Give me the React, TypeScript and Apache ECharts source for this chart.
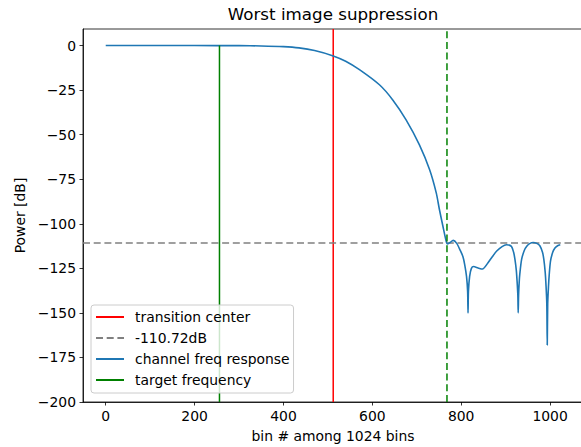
import React, { useEffect, useRef } from "react";
import * as echarts from "echarts";

// ---- data ----
const responseBins = [
  0, 100, 200, 300, 350, 400, 435, 470, 512, 540, 571, 616, 646, 676, 706, 729, 744, 751, 759,
  767, 770, 775, 782, 790, 798, 804, 808, 812, 814.5, 815.4, 816.3, 819, 823, 828, 838, 848, 860,
  870, 880, 892, 902, 913, 918, 921, 924, 926, 927.5, 928.3, 929.2, 930.5, 932, 936, 942, 948,
  955, 962, 970, 977, 983, 986, 989, 991, 992.7, 993.7, 994.7, 996.5, 998, 1001, 1006, 1011,
  1017, 1023,
];
const responseDb = [
  0, 0, 0, -0.05, -0.2, -0.6, -1.3, -2.8, -5.8, -8.8, -13.5, -22, -30.5, -41.7, -55.7, -69.7,
  -82.8, -92, -101.5, -110.5, -111.3, -110.5, -109.3, -111, -115, -118.5, -123, -129.5, -138,
  -150, -138, -129.5, -125, -124, -124.8, -125.4, -122, -118.5, -115.3, -112.8, -111.8, -112.7,
  -116, -120, -126, -133, -140, -150, -140, -133, -128, -120, -115, -112.5, -111, -110.5, -111,
  -112.3, -116, -120, -127, -135, -145, -168, -145, -135, -129, -121, -116, -113.6, -112.3,
  -111.8,
];
const transitionCenter = 512;
const targetFrequency = 256;
const worstBin = 768;
const worstDb = -110.72;
const xTicks = [0, 200, 400, 600, 800, 1000];
const yTicks = [-200, -175, -150, -125, -100, -75, -50, -25, 0];
const xRange = [-51.15, 1074.15];
const yRange = [-200, 9.3];

const FONT = "DejaVu Sans";

export default function App() {
  const ref = useRef<HTMLDivElement>(null);
  useEffect(() => {
    if (!ref.current) return;
    const chart = echarts.init(ref.current, null, { renderer: "svg" });
    const curve = responseBins.map((b, i) => [b, responseDb[i]]);
    const minus = (v: number) => String(v).replace("-", "\u2212");
    chart.setOption({
      animation: false,
      title: {
        text: "Worst image suppression",
        left: 333,
        top: 5,
        textAlign: "center",
        padding: 0,
        textStyle: { fontFamily: FONT, fontSize: 16.7, fontWeight: "normal", color: "#000" },
      },
      grid: {
        left: 83,
        top: 29,
        right: -2,
        bottom: 45,
        show: true,
        borderColor: "#000",
        borderWidth: 0.8,
        outerBoundsMode: "none",
        containLabel: false,
      },
      legend: {
        orient: "vertical",
        left: 91,
        top: 305,
        data: ["transition center", `${worstDb}dB`, "channel freq response", "target frequency"],
        itemWidth: 28,
        itemHeight: 14,
        itemGap: 7,
        padding: [5, 4, 6, 4],
        backgroundColor: "rgba(255,255,255,0.8)",
        borderColor: "#cccccc",
        borderWidth: 1,
        borderRadius: 3,
        selectedMode: false,
        itemStyle: { opacity: 0 },
        textStyle: { fontFamily: FONT, fontSize: 13.9, color: "#000", padding: [0, 0, 0, 6] },
      },
      xAxis: {
        type: "value",
        min: xRange[0],
        max: xRange[1],
        name: "bin # among 1024 bins",
        nameLocation: "middle",
        nameGap: 27,
        nameTextStyle: { fontFamily: FONT, fontSize: 13.9, color: "#000" },
        axisLine: { show: true, onZero: false, lineStyle: { color: "#000", width: 0.8 } },
        axisTick: { show: true, length: 3.5, customValues: xTicks, lineStyle: { color: "#000", width: 0.8 } },
        axisLabel: {
          customValues: xTicks,
          margin: 7,
          fontFamily: FONT,
          fontSize: 13.9,
          color: "#000",
          formatter: (v: number) => String(v),
        },
        splitLine: { show: false },
      },
      yAxis: {
        type: "value",
        min: yRange[0],
        max: yRange[1],
        name: "Power [dB]",
        nameLocation: "middle",
        nameGap: 54,
        nameRotate: 90,
        nameTextStyle: { fontFamily: FONT, fontSize: 13.9, color: "#000" },
        axisLine: { show: true, onZero: false, lineStyle: { color: "#000", width: 0.8 } },
        axisTick: { show: true, length: 3.5, customValues: yTicks, lineStyle: { color: "#000", width: 0.8 } },
        axisLabel: {
          customValues: yTicks,
          margin: 7,
          fontFamily: FONT,
          fontSize: 13.9,
          color: "#000",
          formatter: (v: number) => minus(v),
        },
        splitLine: { show: false },
      },
      series: [
        {
          name: "transition center",
          type: "line",
          symbol: "none",
          data: [[transitionCenter, yRange[0]], [transitionCenter, yRange[1]]],
          lineStyle: { color: "#ff0000", width: 1.5 },
          itemStyle: { color: "#ff0000" },
        },
        {
          name: `${worstDb}dB`,
          type: "line",
          symbol: "none",
          data: [[xRange[0], worstDb], [xRange[1], worstDb]],
          lineStyle: { color: "#808080", width: 1.5, type: [7, 3.7] },
          itemStyle: { color: "#808080" },
        },
        {
          name: "channel freq response",
          type: "line",
          symbol: "none",
          smooth: 0.25,
          data: curve,
          lineStyle: { color: "#1f77b4", width: 1.6 },
          itemStyle: { color: "#1f77b4" },
        },
        {
          name: "target frequency",
          type: "line",
          symbol: "none",
          data: [[targetFrequency, yRange[0]], [targetFrequency, 0]],
          lineStyle: { color: "#008000", width: 1.5 },
          itemStyle: { color: "#008000" },
        },
        {
          name: "worst bin",
          type: "line",
          symbol: "none",
          data: [[worstBin, yRange[0]], [worstBin, yRange[1]]],
          lineStyle: { color: "#008000", width: 1.5, type: [7, 3.7] },
          itemStyle: { color: "#008000" },
        },
      ],
    });
    return () => chart.dispose();
  }, []);
  return (
    <div
      ref={ref}
      style={{ position: "absolute", left: 0, top: 0, width: 581, height: 447 }}
    />
  );
}
